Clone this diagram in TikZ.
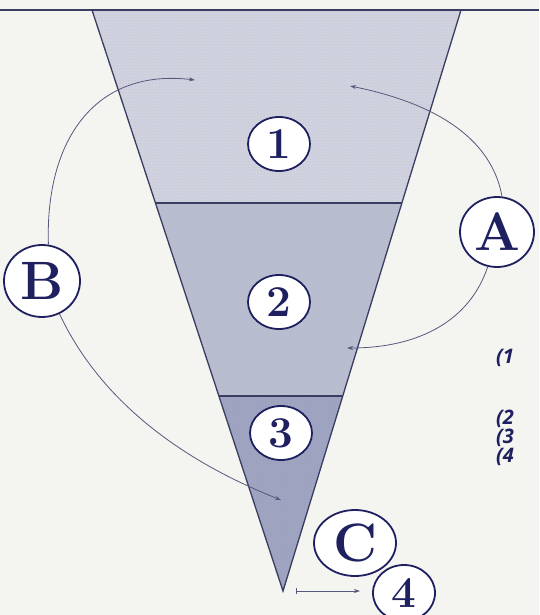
\documentclass[tikz,border=0pt]{standalone}
\usepackage{fontspec}
\newfontfamily\sidefont{Open Sans}
\usetikzlibrary{shapes.geometric,arrows.meta,patterns}
\definecolor{navy}{HTML}{1E2060}
\definecolor{bg}{HTML}{F4F4F0}
\definecolor{bandA}{HTML}{D0D3DF}
\definecolor{bandB}{HTML}{B9BDD0}
\definecolor{bandC}{HTML}{9CA2BF}
\definecolor{edgec}{HTML}{3A3D60}
\definecolor{wire}{HTML}{55597C}
\begin{document}
\begin{tikzpicture}[x=1pt,y=-1pt,
  numlbl/.style={ellipse,draw=navy,line width=1.8pt,fill=white,inner sep=0pt,
    minimum width=62pt,minimum height=54pt,text=navy,
    font=\fontsize{44}{44}\selectfont\bfseries},
  letlbl/.style={ellipse,draw=navy,line width=1.8pt,fill=white,inner sep=0pt,
    text=navy,font=\fontsize{54}{54}\selectfont\bfseries},
  sidetext/.style={anchor=west,text=navy,inner sep=0pt,
    font=\sidefont\fontsize{20}{20}\selectfont\bfseries\itshape},
  wirearrow/.style={draw=wire,line width=0.8pt,-{Stealth[length=6pt,width=4pt]}}
]
\fill[bg] (0,0) rectangle (539,615);
\useasboundingbox (0,0) rectangle (539,615);

% bands of the inverted triangle
\fill[bandA] (92,10) -- (461,10) -- (401.9,203) -- (155.4,203) -- cycle;
\fill[bandB] (155.4,203) -- (401.9,203) -- (342.7,396) -- (218.9,396) -- cycle;
\fill[bandC] (218.9,396) -- (342.7,396) -- (283,591) -- cycle;
\fill[pattern=dots,pattern color=edgec!35] (92,10) -- (461,10) -- (283,591) -- cycle;
\draw[edgec,line width=1.3pt] (155.4,203) -- (401.9,203);
\draw[edgec,line width=1.3pt] (218.9,396) -- (342.7,396);
\draw[edgec,line width=1.3pt,line join=miter] (92,10) -- (283,591) -- (461,10);
\draw[edgec,line width=1.6pt] (0,10) -- (539,10);

% numbered labels
\node[numlbl] (n1) at (279,144) {1};
\node[numlbl] (n2) at (279,302) {2};
\node[numlbl] (n3) at (281,433) {3};
\node[numlbl,minimum width=62pt,minimum height=56pt] (n4) at (404,593) {4};

% letter labels
\node[letlbl,minimum width=74pt,minimum height=70pt] (A) at (497,232) {A};
\node[letlbl,minimum width=76pt,minimum height=72pt] (B) at (42,281) {B};
\node[letlbl,minimum width=82pt,minimum height=66pt] (C) at (355,543) {C};

% arrow ends
\coordinate (a1) at (350,86);
\coordinate (a2) at (347,348);
\coordinate (b1) at (195,80);
\coordinate (b2) at (281,500);
\coordinate (c0) at (296,591);
\coordinate (c1) at (360,591);

\draw[wirearrow] (A.82) .. controls (490,130) and (420,100) .. (a1);
\draw[wirearrow] (A.-105) .. controls (470,320) and (420,348) .. (a2);
\draw[wirearrow] (B.80) .. controls (45,140) and (95,68) .. (b1);
\draw[wirearrow] (B.-62) .. controls (100,400) and (180,460) .. (b2);
\draw[draw=wire,line width=0.8pt,{Bar[width=6pt]}-{Stealth[length=6pt,width=4pt]}] (c0) -- (c1);

% side texts (cut at the right edge)
\node[sidetext] (t1) at (496,358) {(1};
\node[sidetext] (t2) at (496,419) {(2};
\node[sidetext] (t3) at (496,438) {(3};
\node[sidetext] (t4) at (496,457) {(4};
\end{tikzpicture}
\end{document}
